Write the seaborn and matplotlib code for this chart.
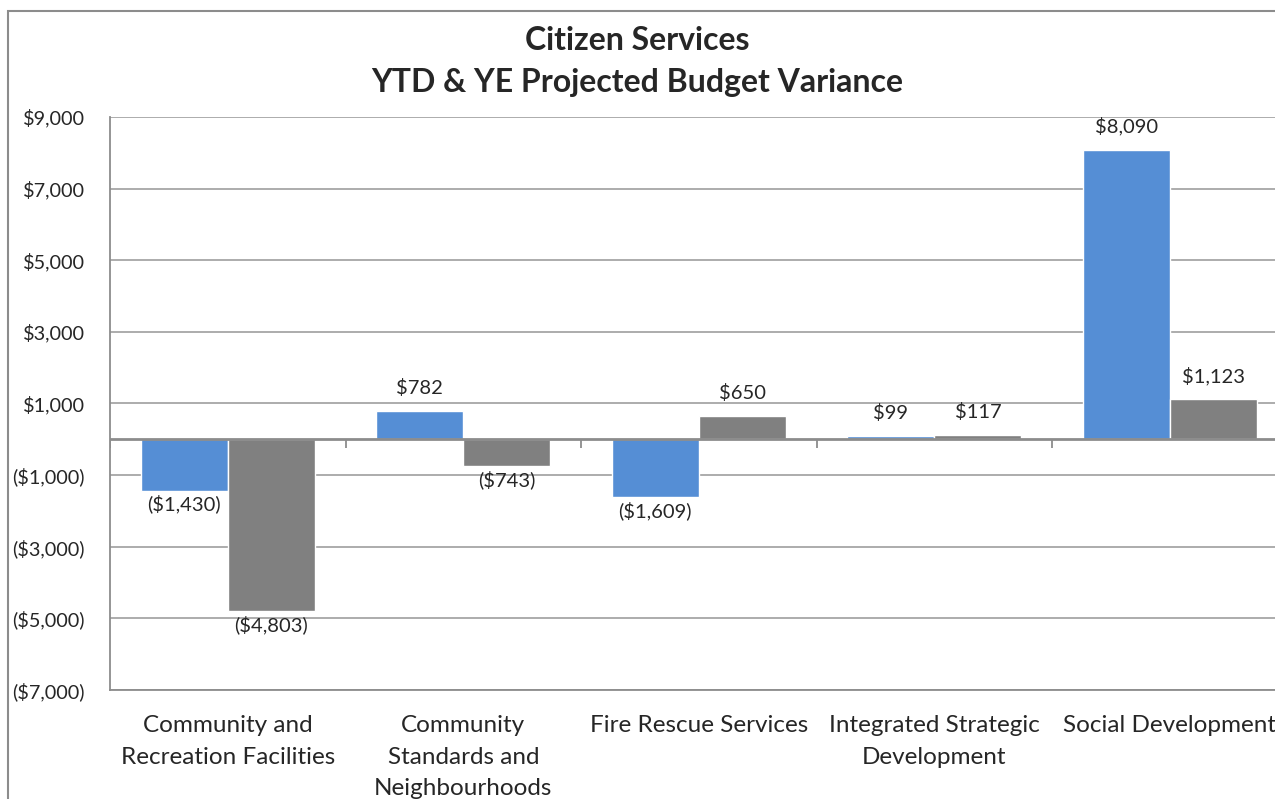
import pandas as pd
import matplotlib.pyplot as plt
import matplotlib.patches as mpatches
import seaborn as sns

categories = [
    "Community and\nRecreation Facilities",
    "Community\nStandards and\nNeighbourhoods",
    "Fire Rescue Services",
    "Integrated Strategic\nDevelopment",
    "Social Development",
]
series_names = ["YTD", "YE Projected"]
ytd_values = [-1430, 782, -1609, 99, 8090]
ye_values = [-4803, -743, 650, 117, 1123]
y_ticks = [-7000, -5000, -3000, -1000, 1000, 3000, 5000, 7000, 9000]
colors = ["#558ED5", "#808080"]


def money(v):
    s = f"${abs(v):,.0f}"
    return f"({s})" if v < 0 else s


def main():
    df = pd.DataFrame({
        "category": categories * 2,
        "series": [series_names[0]] * len(categories) + [series_names[1]] * len(categories),
        "value": ytd_values + ye_values,
    })

    sns.set_style("white")
    plt.rcParams["font.family"] = ["Lato", "DejaVu Sans"]

    fig = plt.figure(figsize=(12.75, 7.99), dpi=100)
    ax = fig.add_axes([0.0863, 0.1364, 0.9235, 0.7172])

    sns.barplot(data=df, x="category", y="value", hue="series", order=categories,
                hue_order=series_names, palette=colors, width=0.74, gap=0,
                saturation=1, legend=False, ax=ax, errorbar=None)

    ax.set_ylim(-7000, 9000)
    ax.set_xlim(-0.5, len(categories) - 0.5)
    ax.set_yticks(y_ticks)
    ax.set_yticklabels([money(t) for t in y_ticks], fontsize=14.3)
    ax.yaxis.grid(True, color="#A6A6A6", linewidth=1.3)
    ax.set_axisbelow(True)
    ax.tick_params(axis="y", length=6, color="#8C8C8C", width=1.3, pad=12)
    ax.tick_params(axis="x", length=0, pad=18, labelsize=17.5)
    ax.set_xticklabels(categories, linespacing=1.62, va="top")
    ax.set_xlabel("")
    ax.set_ylabel("")
    for side in ["top", "right"]:
        ax.spines[side].set_visible(False)
    for side in ["left", "bottom"]:
        ax.spines[side].set_color("#8C8C8C")
        ax.spines[side].set_linewidth(1.3)

    # zero line with category dividers
    ax.axhline(0, color="#8C8C8C", linewidth=2, zorder=3)
    bounds = [i - 0.5 for i in range(len(categories) + 1)]
    ax.vlines(bounds, -230, 0, color="#8C8C8C", linewidth=1.3, zorder=3)

    # data labels
    for container in ax.containers:
        for bar in container:
            v = bar.get_height()
            x = bar.get_x() + bar.get_width() / 2
            if v >= 0:
                ax.annotate(money(v), (x, v), xytext=(0, 10), textcoords="offset points",
                            ha="center", va="bottom", fontsize=14.5)
            else:
                ax.annotate(money(v), (x, v), xytext=(0, -3), textcoords="offset points",
                            ha="center", va="top", fontsize=14.5)

    fig.suptitle("Citizen Services\nYTD & YE Projected Budget Variance", y=0.968,
                 fontsize=23, fontweight="bold", linespacing=1.55)

    border = mpatches.Rectangle((8 / 1275, -0.1), 1.2, 1 - 11 / 799 + 0.1,
                                transform=fig.transFigure, fill=False,
                                edgecolor="#8C8C8C", linewidth=1.5)
    fig.patches.append(border)

    fig.savefig("out.png", dpi=100)


if __name__ == "__main__":
    main()
